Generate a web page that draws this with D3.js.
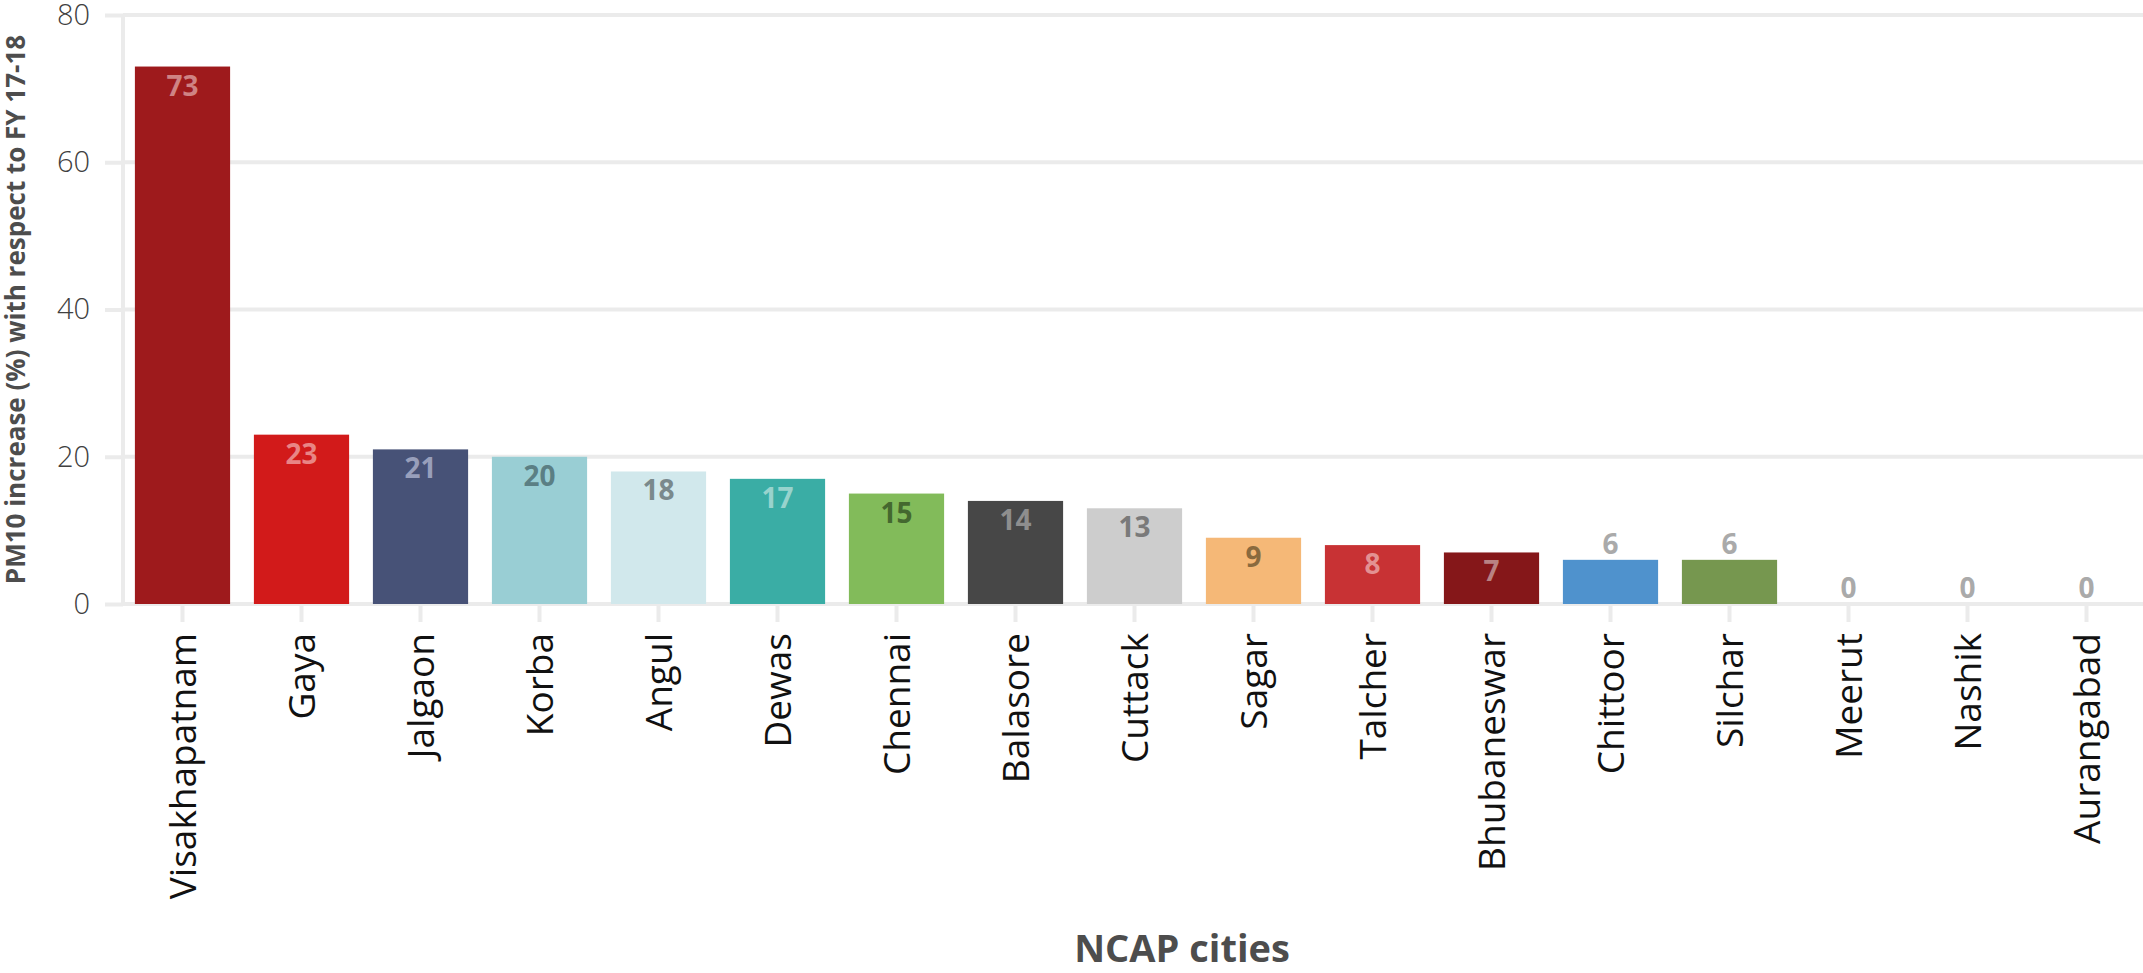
<!DOCTYPE html>
<html>
<head>
<meta charset="utf-8">
<script src="https://cdn.jsdelivr.net/npm/d3@7"></script>
<style>
  body { margin: 0; background: #fff; }
  svg { display: block; }
</style>
</head>
<body>
<div id="chart"></div>
<script>
var cities = ["Visakhapatnam", "Gaya", "Jalgaon", "Korba", "Angul", "Dewas", "Chennai", "Balasore",
              "Cuttack", "Sagar", "Talcher", "Bhubaneswar", "Chittoor", "Silchar", "Meerut", "Nashik", "Aurangabad"];
var increase = [73, 23, 21, 20, 18, 17, 15, 14, 13, 9, 8, 7, 6, 6, 0, 0, 0];
var yTicks = [0, 20, 40, 60, 80];

// bar fills and label colours, one per city
var barColors = ["#9e1a1c", "#d21a1a", "#475277", "#99ced4", "#d1e8ec", "#3aada5", "#82bb5a", "#474747",
                 "#cdcdcd", "#f5b877", "#c83234", "#851719", "#4f92cd", "#76974f", "#cccccc", "#cccccc", "#cccccc"];
var labelColors = ["#cf8384", "#e88585", "#989fbb", "#5b7f84", "#7a898c", "#98d3cd", "#44682f", "#8e8e8e",
                   "#7a7a7a", "#8a6a3e", "#e39192", "#b98283", "#aaaaaa", "#aaaaaa", "#aaaaaa", "#aaaaaa", "#aaaaaa"];

var width = 2143, height = 973;
var plotLeft = 123, plotRight = 2146, plotTop = 15, plotBottom = 604;

var svg = d3.select("#chart")
    .append("svg")
        .attr("width", width)
        .attr("height", height);

var x = d3.scaleBand()
    .domain(cities)
    .range([plotLeft, plotRight])
    .paddingInner(0.2)
    .paddingOuter(0.1);

var y = d3.scaleLinear()
    .domain([0, 80])
    .range([plotBottom, plotTop]);

var gridColor = "#ebebeb";

// horizontal grid
svg.append("g")
    .selectAll("line")
    .data(yTicks)
    .enter()
    .append("line")
        .attr("x1", plotLeft)
        .attr("x2", width)
        .attr("y1", function(d) { return y(d); })
        .attr("y2", function(d) { return y(d); })
        .attr("stroke", gridColor)
        .attr("stroke-width", 4);

// left panel line
svg.append("line")
    .attr("x1", plotLeft).attr("x2", plotLeft)
    .attr("y1", y(80)).attr("y2", y(0))
    .attr("stroke", gridColor)
    .attr("stroke-width", 4);

// y axis
var yAxis = svg.append("g")
    .attr("transform", "translate(" + plotLeft + ",0)")
    .call(d3.axisLeft(y).tickValues(yTicks).tickSize(18).tickPadding(15));
yAxis.select(".domain").remove();
yAxis.selectAll(".tick line")
    .attr("stroke", gridColor)
    .attr("stroke-width", 4);
yAxis.selectAll(".tick text")
    .style("font-family", "'Open Sans', sans-serif")
    .style("font-weight", "300")
    .style("font-size", "29px")
    .attr("fill", "#404040");

// x axis
var xAxis = svg.append("g")
    .attr("transform", "translate(0," + plotBottom + ")")
    .call(d3.axisBottom(x).tickSize(18).tickPadding(0));
xAxis.select(".domain").remove();
xAxis.selectAll(".tick line")
    .attr("stroke", gridColor)
    .attr("stroke-width", 4);
xAxis.selectAll(".tick text")
    .attr("transform", "translate(0,29) rotate(-90)")
    .attr("y", 0)
    .attr("dy", "0.36em")
    .style("text-anchor", "end")
    .style("font-family", "'Open Sans', sans-serif")
    .style("font-size", "37px")
    .attr("fill", "#111");

// bars
svg.append("g")
    .selectAll("rect")
    .data(increase)
    .enter()
    .append("rect")
        .attr("x", function(d, i) { return x(cities[i]); })
        .attr("y", function(d) { return y(d); })
        .attr("width", x.bandwidth())
        .attr("height", function(d) { return y(0) - y(d); })
        .attr("fill", function(d, i) { return barColors[i]; });

// value labels
svg.append("g")
    .selectAll("text")
    .data(increase)
    .enter()
    .append("text")
        .attr("x", function(d, i) { return x(cities[i]) + x.bandwidth() / 2; })
        .attr("y", function(d) { return d >= 7 ? y(d) + 29 : y(d) - 6; })
        .text(function(d) { return d; })
        .style("text-anchor", "middle")
        .style("font-family", "'Open Sans', sans-serif")
        .style("font-weight", "700")
        .style("font-size", "28px")
        .attr("fill", function(d, i) { return labelColors[i]; });

// axis titles
svg.append("text")
    .attr("transform", "translate(" + 25 + "," + ((plotTop + plotBottom) / 2) + ") rotate(-90)")
    .text("PM10 increase (%) with respect to FY 17-18")
    .style("text-anchor", "middle")
    .style("font-family", "'Open Sans', sans-serif")
    .style("font-weight", "700")
    .style("font-size", "26px")
    .attr("fill", "#4d4d4d");

svg.append("text")
    .attr("x", 1182)
    .attr("y", 962)
    .text("NCAP cities")
    .style("text-anchor", "middle")
    .style("font-family", "'Open Sans', sans-serif")
    .style("font-weight", "700")
    .style("font-size", "38px")
    .attr("fill", "#4d4d4d");
</script>
</body>
</html>
